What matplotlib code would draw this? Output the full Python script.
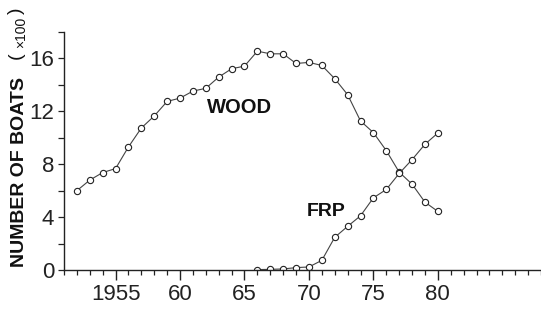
import matplotlib
matplotlib.use("Agg")
import matplotlib.pyplot as plt
from matplotlib.ticker import MultipleLocator, FixedLocator

plt.rcParams['font.family'] = ['Liberation Sans', 'DejaVu Sans']

wood_years = list(range(1952, 1981))
wood_values = [6.0, 6.8, 7.37, 7.67, 9.31, 10.74, 11.65, 12.75, 13.0, 13.53,
               13.74, 14.59, 15.22, 15.42, 16.55, 16.35, 16.35, 15.62, 15.70,
               15.47, 14.47, 13.26, 11.27, 10.39, 9.03, 7.40, 6.49, 5.13, 4.43]
frp_years = list(range(1966, 1981))
frp_values = [0.03, 0.05, 0.08, 0.18, 0.23, 0.73, 2.47, 3.30, 4.10, 5.46,
              6.09, 7.30, 8.35, 9.51, 10.36]
xtick_values = [1955, 1960, 1965, 1970, 1975, 1980]
xtick_labels = ['1955', '60', '65', '70', '75', '80']
ytick_values = [0, 4, 8, 12, 16]

fig = plt.figure(figsize=(5.41, 3.14), dpi=100)
ax = fig.add_axes([64/541, 1-270/314, 1-64/541, (270-32)/314])

for xs, ys in [(wood_years, wood_values), (frp_years, frp_values)]:
    ax.plot(xs, ys, color='#444444', lw=0.8, marker='o', ms=4.5,
            mfc='white', mec='#222222', mew=0.8)

ax.set_xlim(1951.0, 1988.0)
ax.set_ylim(0, 18)
ax.spines['top'].set_visible(False)
ax.spines['right'].set_visible(False)
for s in ['left', 'bottom']:
    ax.spines[s].set_linewidth(1.0)
    ax.spines[s].set_color('#222222')

ax.xaxis.set_major_locator(FixedLocator(xtick_values))
ax.set_xticklabels(xtick_labels)
ax.xaxis.set_minor_locator(MultipleLocator(1))
ax.yaxis.set_major_locator(FixedLocator(ytick_values))
ax.yaxis.set_minor_locator(MultipleLocator(2))
ax.tick_params(axis='x', which='major', direction='out', length=7, width=1.0,
               labelsize=16, pad=3, colors='#222222')
ax.tick_params(axis='x', which='minor', direction='out', length=3.5, width=0.9,
               colors='#222222')
ax.tick_params(axis='y', which='major', direction='out', length=4, width=0.9,
               labelsize=16, pad=3, colors='#222222')
ax.tick_params(axis='y', which='minor', direction='out', length=4, width=0.9,
               colors='#222222')

ax.text(1964.6, 12.3, 'WOOD', fontsize=14.5, fontweight='bold', ha='center',
        va='center', color='#111111')
ax.text(1971.3, 4.4, 'FRP', fontsize=14, fontweight='bold', ha='center',
        va='center', color='#111111')

fig.text(20/541, 1-172/314, 'NUMBER OF BOATS', rotation=90, fontsize=14,
         fontweight='bold', ha='center', va='center', color='#111111')
fig.text(16/541, 1-56/314, '(', rotation=90, fontsize=14,
         ha='center', va='center', color='#111111')
fig.text(21/541, 1-32/314, '\u00d7100', rotation=90, fontsize=10,
         ha='center', va='center', color='#111111')
fig.text(16/541, 1-11/314, ')', rotation=90, fontsize=14,
         ha='center', va='center', color='#111111')

fig.savefig('out.png', dpi=100)
